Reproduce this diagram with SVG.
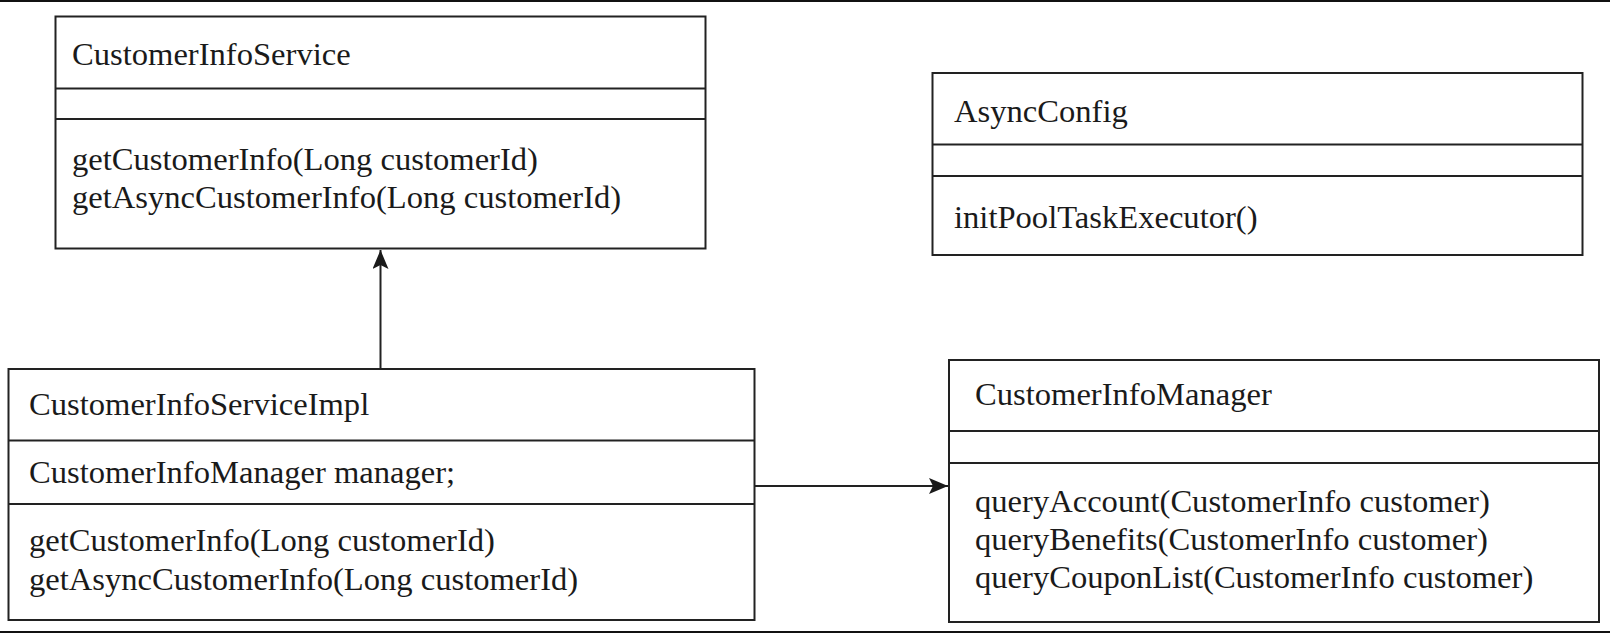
<svg xmlns="http://www.w3.org/2000/svg" width="1610" height="634" viewBox="0 0 1610 634">
<style>
  .box{fill:#fff;stroke:#222;stroke-width:2}
  .div{stroke:#222;stroke-width:2}
  .t{font-family:"Liberation Serif","Times New Roman",serif;font-size:32.6px;fill:#1a1a1a}
  .edge{stroke:#222;stroke-width:2;fill:none}
  .frame{stroke:#111;stroke-width:2}
</style>
<defs>
  <marker id="arr" markerWidth="20" markerHeight="16" refX="19" refY="8" orient="auto" markerUnits="userSpaceOnUse">
    <path d="M0,0 L19,8 L0,16 L4,8 Z" fill="#1a1a1a"/>
  </marker>
</defs>
<rect x="0" y="0" width="1610" height="634" fill="#fff"/>
<line class="frame" x1="0" y1="1" x2="1610" y2="1"/>
<line class="frame" x1="0" y1="632" x2="1610" y2="632"/>

<g id="CustomerInfoService">
  <rect class="box" x="55.5" y="16.5" width="650" height="232"/>
  <line class="div" x1="55.5" y1="88.5" x2="705.5" y2="88.5"/>
  <line class="div" x1="55.5" y1="119" x2="705.5" y2="119"/>
  <text class="t" x="72" y="65">CustomerInfoService</text>
  <text class="t" x="72" y="170">getCustomerInfo(Long customerId)</text>
  <text class="t" x="72" y="208">getAsyncCustomerInfo(Long customerId)</text>
</g>

<g id="AsyncConfig">
  <rect class="box" x="932.5" y="73" width="650" height="182"/>
  <line class="div" x1="932.5" y1="144.5" x2="1582.5" y2="144.5"/>
  <line class="div" x1="932.5" y1="176" x2="1582.5" y2="176"/>
  <text class="t" x="954" y="122">AsyncConfig</text>
  <text class="t" x="954" y="228">initPoolTaskExecutor()</text>
</g>

<g id="CustomerInfoServiceImpl">
  <rect class="box" x="8.5" y="369" width="746" height="251"/>
  <line class="div" x1="8.5" y1="440.5" x2="754.5" y2="440.5"/>
  <line class="div" x1="8.5" y1="504" x2="754.5" y2="504"/>
  <text class="t" x="29" y="415">CustomerInfoServiceImpl</text>
  <text class="t" x="29" y="483">CustomerInfoManager manager;</text>
  <text class="t" x="29" y="551">getCustomerInfo(Long customerId)</text>
  <text class="t" x="29" y="590">getAsyncCustomerInfo(Long customerId)</text>
</g>

<g id="CustomerInfoManager">
  <rect class="box" x="949" y="360" width="650" height="262"/>
  <line class="div" x1="949" y1="431" x2="1599" y2="431"/>
  <line class="div" x1="949" y1="463" x2="1599" y2="463"/>
  <text class="t" x="975" y="405">CustomerInfoManager</text>
  <text class="t" x="975" y="512">queryAccount(CustomerInfo customer)</text>
  <text class="t" x="975" y="550">queryBenefits(CustomerInfo customer)</text>
  <text class="t" x="975" y="588">queryCouponList(CustomerInfo customer)</text>
</g>

<g id="connectors">
  <line class="edge" x1="380.5" y1="369" x2="380.5" y2="250" marker-end="url(#arr)"/>
  <line class="edge" x1="754.5" y1="486" x2="948" y2="486" marker-end="url(#arr)"/>
</g>
</svg>
